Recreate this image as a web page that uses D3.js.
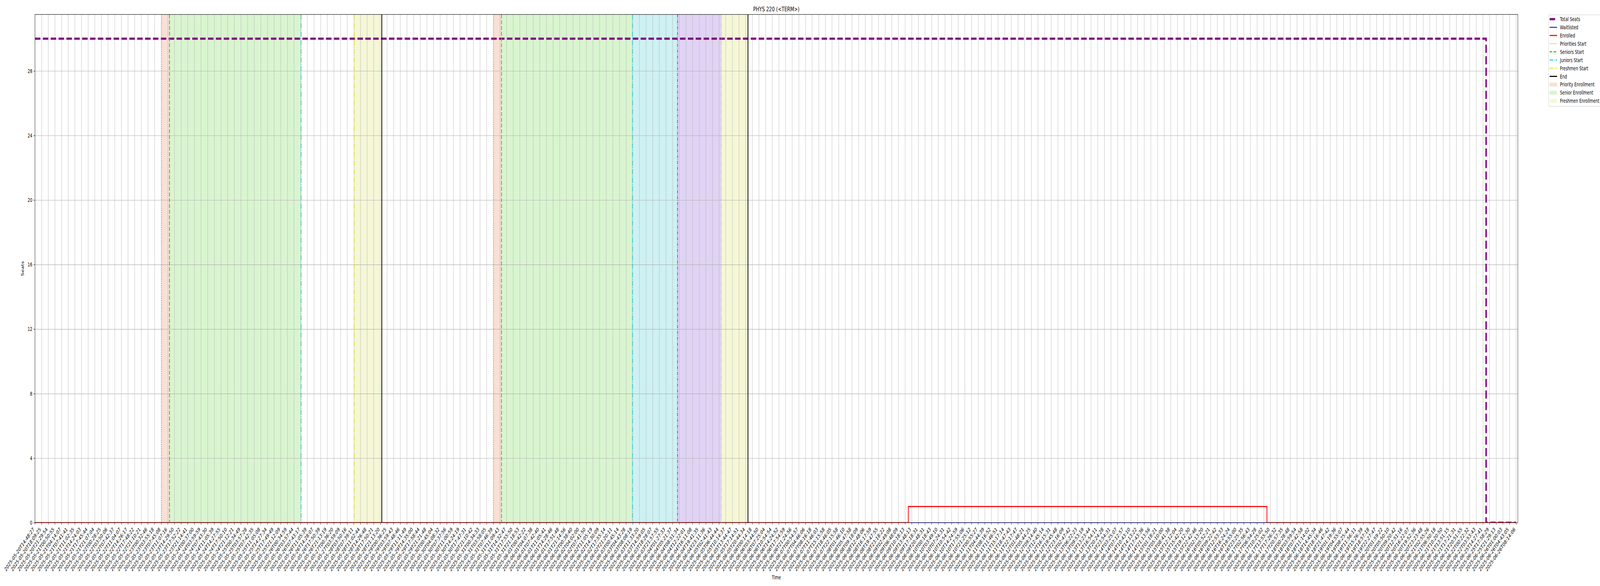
<!DOCTYPE html>
<html>
<head>
<meta charset="utf-8">
<title>PHYS 220 (<TERM>)</title>
<script src="https://cdn.jsdelivr.net/npm/d3@7"></script>
<style>
  html, body { margin: 0; padding: 0; background: #fff; overflow: hidden; }
  svg { display: block; }
  text { font-family: "DejaVu Sans", sans-serif; fill: #000; }
</style>
</head>
<body>
<div id="chart-area"></div>
<script>
// snapshot times (one category per scrape)
let timeLabels = [
  "2025-05-20T14:48:27","2025-05-20T18:09:25","2025-05-20T21:29:54","2025-05-21T00:50:55",
  "2025-05-21T04:14:07","2025-05-21T07:41:41","2025-05-21T11:02:35","2025-05-21T14:24:03",
  "2025-05-21T17:45:44","2025-05-21T21:07:04","2025-05-22T00:28:25","2025-05-22T03:50:06",
  "2025-05-22T07:42:37","2025-05-22T11:04:07","2025-05-22T14:26:17","2025-05-22T17:48:22",
  "2025-05-22T21:10:21","2025-05-23T00:32:46","2025-05-23T03:55:18","2025-05-23T07:45:08",
  "2025-05-23T11:07:16","2025-05-23T14:29:50","2025-05-23T17:52:22","2025-05-23T21:14:41",
  "2025-05-24T00:37:00","2025-05-24T03:59:59","2025-05-24T07:43:30","2025-05-24T11:05:39",
  "2025-05-24T14:27:55","2025-05-24T17:50:10","2025-05-24T21:12:21","2025-05-25T00:34:49",
  "2025-05-25T03:57:28","2025-05-25T07:42:35","2025-05-25T11:05:08","2025-05-25T14:27:34",
  "2025-05-25T17:49:49","2025-05-25T21:12:09","2025-05-26T00:34:59","2025-05-26T03:57:44",
  "2025-05-26T07:43:17","2025-05-26T11:05:39","2025-05-26T14:28:07","2025-05-26T17:50:39",
  "2025-05-26T21:13:19","2025-05-27T00:36:20","2025-05-27T03:59:09","2025-05-28T03:50:16",
  "2025-05-28T07:39:11","2025-05-28T11:02:44","2025-05-28T14:26:48","2025-05-28T17:50:21",
  "2025-05-28T21:13:20","2025-05-29T00:36:25","2025-05-29T03:59:43","2025-05-29T07:48:46",
  "2025-05-29T11:11:49","2025-05-29T14:35:00","2025-05-29T17:58:44","2025-05-29T21:21:48",
  "2025-05-30T00:45:04","2025-05-30T04:08:32","2025-05-30T07:37:56","2025-05-30T11:00:59",
  "2025-05-30T14:24:19","2025-05-30T17:47:31","2025-05-30T21:10:42","2025-05-31T00:34:33",
  "2025-05-31T03:58:05","2025-05-31T07:46:39","2025-05-31T11:09:43","2025-05-31T14:32:47",
  "2025-05-31T17:55:50","2025-05-31T21:18:53","2025-06-01T00:42:22","2025-06-01T04:07:38",
  "2025-06-01T07:42:40","2025-06-01T11:05:41","2025-06-01T14:28:46","2025-06-01T17:51:48",
  "2025-06-01T21:14:56","2025-06-02T00:38:40","2025-06-02T04:02:00","2025-06-02T07:41:50",
  "2025-06-02T11:05:19","2025-06-02T14:30:09","2025-06-02T17:55:14","2025-06-02T21:20:11",
  "2025-06-03T00:45:14","2025-06-03T04:43:28","2025-06-03T08:08:19","2025-06-03T11:33:20",
  "2025-06-03T14:59:05","2025-06-03T18:28:07","2025-06-03T21:57:55","2025-06-04T01:27:33",
  "2025-06-04T05:21:37","2025-06-04T08:51:34","2025-06-04T12:22:01","2025-06-04T16:11:08",
  "2025-06-04T19:41:35","2025-06-04T23:11:36","2025-06-05T02:41:43","2025-06-05T06:44:44",
  "2025-06-05T10:14:37","2025-06-05T13:44:47","2025-06-05T17:14:51","2025-06-05T20:44:34",
  "2025-06-06T00:14:18","2025-06-06T03:44:50","2025-06-06T07:25:04","2025-06-06T10:54:54",
  "2025-06-06T14:24:52","2025-06-06T17:54:59","2025-06-06T21:24:56","2025-06-07T00:54:57",
  "2025-06-07T04:46:06","2025-06-07T08:16:18","2025-06-07T11:46:03","2025-06-07T15:15:58",
  "2025-06-07T18:46:05","2025-06-07T22:15:58","2025-06-08T01:46:10","2025-06-08T05:47:58",
  "2025-06-08T09:18:09","2025-06-08T12:48:06","2025-06-08T16:17:59","2025-06-08T19:47:55",
  "2025-06-08T23:18:22","2025-06-09T02:49:08","2025-06-09T06:48:09","2025-06-09T10:18:13",
  "2025-06-09T13:48:13","2025-06-09T17:18:31","2025-06-09T20:48:31","2025-06-10T00:18:43",
  "2025-06-10T03:49:10","2025-06-10T07:24:31","2025-06-10T10:54:42","2025-06-10T14:24:59",
  "2025-06-10T17:55:06","2025-06-10T21:25:12","2025-06-11T00:55:27","2025-06-11T04:44:39",
  "2025-06-11T08:16:52","2025-06-11T11:46:51","2025-06-11T15:17:14","2025-06-11T18:47:43",
  "2025-06-11T22:17:47","2025-06-12T01:48:21","2025-06-12T05:44:25","2025-06-12T09:14:40",
  "2025-06-12T12:45:14","2025-06-12T16:15:31","2025-06-12T19:45:48","2025-06-12T23:16:09",
  "2025-06-13T02:47:42","2025-06-13T06:22:23","2025-06-13T09:53:19","2025-06-13T13:23:44",
  "2025-06-13T16:54:11","2025-06-13T20:24:28","2025-06-13T23:54:31","2025-06-14T03:25:07",
  "2025-06-14T07:12:57","2025-06-14T10:43:10","2025-06-14T14:13:22","2025-06-14T17:43:36",
  "2025-06-14T21:13:56","2025-06-15T01:18:21","2025-06-15T05:10:00","2025-06-15T08:41:38",
  "2025-06-15T12:12:04","2025-06-15T15:42:20","2025-06-15T19:12:30","2025-06-15T22:42:46",
  "2025-06-16T02:13:20","2025-06-16T05:52:21","2025-06-16T09:22:42","2025-06-16T12:53:33",
  "2025-06-16T16:24:24","2025-06-16T19:55:00","2025-06-16T23:25:35","2025-06-17T02:56:43",
  "2025-06-17T06:54:28","2025-06-17T10:25:02","2025-06-17T13:55:50","2025-06-17T17:26:32",
  "2025-06-17T20:57:35","2025-06-18T00:28:48","2025-06-18T03:59:54","2025-06-18T07:42:58",
  "2025-06-18T11:14:02","2025-06-18T14:45:34","2025-06-18T18:16:46","2025-06-18T21:47:42",
  "2025-06-19T01:19:36","2025-06-19T04:55:07","2025-06-19T08:25:44","2025-06-19T11:56:11",
  "2025-06-19T15:26:39","2025-06-19T18:57:18","2025-06-19T22:27:47","2025-06-20T01:59:22",
  "2025-06-20T05:50:10","2025-06-20T09:20:42","2025-06-20T12:51:16","2025-06-20T16:22:07",
  "2025-06-20T19:52:36","2025-06-20T23:23:48","2025-06-21T02:55:26","2025-06-21T06:50:18",
  "2025-06-21T10:20:50","2025-06-21T13:51:15","2025-06-21T17:21:31","2025-06-21T20:51:55",
  "2025-06-22T00:22:32","2025-06-22T03:53:43","2025-06-25T14:27:41","2025-06-25T17:58:29",
  "2025-06-25T21:29:13","2025-06-26T01:00:03","2025-06-26T04:43:05","2025-06-26T08:14:06"
];

let totalSeats = [
  30,30,30,30,30,30,30,30,30,30,30,30,30,30,30,30,
  30,30,30,30,30,30,30,30,30,30,30,30,30,30,30,30,
  30,30,30,30,30,30,30,30,30,30,30,30,30,30,30,30,
  30,30,30,30,30,30,30,30,30,30,30,30,30,30,30,30,
  30,30,30,30,30,30,30,30,30,30,30,30,30,30,30,30,
  30,30,30,30,30,30,30,30,30,30,30,30,30,30,30,30,
  30,30,30,30,30,30,30,30,30,30,30,30,30,30,30,30,
  30,30,30,30,30,30,30,30,30,30,30,30,30,30,30,30,
  30,30,30,30,30,30,30,30,30,30,30,30,30,30,30,30,
  30,30,30,30,30,30,30,30,30,30,30,30,30,30,30,30,
  30,30,30,30,30,30,30,30,30,30,30,30,30,30,30,30,
  30,30,30,30,30,30,30,30,30,30,30,30,30,30,30,30,
  30,30,30,30,30,30,30,30,30,30,30,30,30,30,30,30,
  30,30,30,30,30,30,30,30,30,30,30, 0, 0, 0, 0, 0
];

let waitlisted = [
  0,0,0,0,0,0,0,0,0,0,0,0,0,0,0,0,
  0,0,0,0,0,0,0,0,0,0,0,0,0,0,0,0,
  0,0,0,0,0,0,0,0,0,0,0,0,0,0,0,0,
  0,0,0,0,0,0,0,0,0,0,0,0,0,0,0,0,
  0,0,0,0,0,0,0,0,0,0,0,0,0,0,0,0,
  0,0,0,0,0,0,0,0,0,0,0,0,0,0,0,0,
  0,0,0,0,0,0,0,0,0,0,0,0,0,0,0,0,
  0,0,0,0,0,0,0,0,0,0,0,0,0,0,0,0,
  0,0,0,0,0,0,0,0,0,0,0,0,0,0,0,0,
  0,0,0,0,0,0,0,0,0,0,0,0,0,0,0,0,
  0,0,0,0,0,0,0,0,0,0,0,0,0,0,0,0,
  0,0,0,0,0,0,0,0,0,0,0,0,0,0,0,0,
  0,0,0,0,0,0,0,0,0,0,0,0,0,0,0,0,
  0,0,0,0,0,0,0,0,0,0,0,0,0,0,0,0
];

let enrolled = [
  0,0,0,0,0,0,0,0,0,0,0,0,0,0,0,0,
  0,0,0,0,0,0,0,0,0,0,0,0,0,0,0,0,
  0,0,0,0,0,0,0,0,0,0,0,0,0,0,0,0,
  0,0,0,0,0,0,0,0,0,0,0,0,0,0,0,0,
  0,0,0,0,0,0,0,0,0,0,0,0,0,0,0,0,
  0,0,0,0,0,0,0,0,0,0,0,0,0,0,0,0,
  0,0,0,0,0,0,0,0,0,0,0,0,0,0,0,0,
  0,0,0,0,0,0,0,0,0,0,0,0,0,0,0,0,
  0,0,0,0,1,1,1,1,1,1,1,1,1,1,1,1,
  1,1,1,1,1,1,1,1,1,1,1,1,1,1,1,1,
  1,1,1,1,1,1,1,1,1,1,1,1,1,1,1,1,
  1,1,1,1,1,1,1,1,1,1,0,0,0,0,0,0,
  0,0,0,0,0,0,0,0,0,0,0,0,0,0,0,0,
  0,0,0,0,0,0,0,0,0,0,0,0,0,0,0,0
];

let yTicks = [0, 4, 8, 12, 16, 20, 24, 28];

// enrollment phase markers, as fractional category positions
let markerKinds = ["priorities", "seniors", "juniors", "freshmen", "end",
                   "priorities", "seniors", "juniors", "sophomores", "freshmen", "end"];
let markerPos = [19.07, 20.26, 40.08, 48.10, 52.23,
                 69.07, 70.25, 89.96, 96.75, 103.36, 107.36];

let spanKinds = ["priority", "senior", "freshmen",
                 "priority", "senior", "junior", "sophomore", "freshmen"];
let spanStart = [19.07, 20.26, 48.10, 69.07, 70.25, 89.96, 96.75, 103.36];
let spanEnd   = [20.26, 40.08, 52.23, 70.25, 89.96, 96.75, 103.36, 107.36];

// styles
let markerStyle = {
    priorities: { color: "#f06a32", width: 2.1, dash: "2.1,3.4" },
    seniors:    { color: "#33cc11", width: 2.8, dash: "10.3,4.4" },
    juniors:    { color: "#14c4d2", width: 2.1, dash: "13.3,3.3,2.1,3.3" },
    sophomores: { color: "#6a22d6", width: 2.1, dash: "8,2.5,2,2.5" },
    freshmen:   { color: "#e0e028", width: 2.1, dash: "13.3,3.3,2.1,3.3" },
    end:        { color: "#000000", width: 2.8, dash: null }
};
let spanFill = {
    priority:  "#f8e0d5",
    senior:    "#d9f5d0",
    junior:    "#cef1f3",
    sophomore: "#e0d3f4",
    freshmen:  "#f6f7d6"
};

let W = 6000, H = 1500;
let margin = { left: 131, top: 37, right: 308, bottom: 162 };
let width = W - margin.left - margin.right;
let height = H - margin.top - margin.bottom;

// the drawing is laid out on a 6000x1500 board and stretched to the window
let pageW = window.innerWidth || W;
let pageH = window.innerHeight || H;
let svg = d3.select("#chart-area")
    .append("svg")
    .attr("width", pageW)
    .attr("height", pageH)
    .attr("viewBox", "0 0 " + W + " " + H)
    .attr("preserveAspectRatio", "none");

svg.append("rect").attr("width", W).attr("height", H).attr("fill", "#fff");

let g = svg.append("g")
    .attr("transform", "translate(" + margin.left + ", " + margin.top + ")");

g.append("clipPath").attr("id", "plot-clip")
    .append("rect")
    .attr("width", width)
    .attr("height", height);

let x = d3.scaleLinear()
    .domain([0, timeLabels.length - 1])
    .range([0, width - 7]);

let y = d3.scaleLinear()
    .domain([0, 31.5])
    .range([height, 0]);

let plot = g.append("g").attr("clip-path", "url(#plot-clip)");

// shaded enrollment windows
plot.selectAll("rect.span")
    .data(spanKinds)
    .enter()
    .append("rect")
    .attr("class", "span")
    .attr("x", function(d, i) { return x(spanStart[i]); })
    .attr("width", function(d, i) { return x(spanEnd[i]) - x(spanStart[i]); })
    .attr("y", 0)
    .attr("height", height)
    .attr("fill", function(d) { return spanFill[d]; });

// grid
let idx = d3.range(timeLabels.length);
plot.append("g")
    .attr("class", "grid")
    .attr("transform", "translate(0, " + height + ")")
    .call(d3.axisBottom(x).tickValues(idx).tickSize(-height).tickFormat(""))
    .call(function(s) { s.select(".domain").remove(); })
    .selectAll("line")
    .attr("stroke", "#b0b0b0")
    .attr("stroke-width", 1.1);

plot.append("g")
    .attr("class", "grid")
    .call(d3.axisLeft(y).tickValues(yTicks).tickSize(-width).tickFormat(""))
    .call(function(s) { s.select(".domain").remove(); })
    .selectAll("line")
    .attr("stroke", "#b0b0b0")
    .attr("stroke-width", 1.1);

// series, drawn as mid steps
let stepLine = function(series) {
    return d3.line()
        .x(function(d, i) { return x(i); })
        .y(function(d) { return y(d); })
        .curve(d3.curveStep)(series);
};

plot.append("path")
    .attr("d", stepLine(totalSeats))
    .attr("fill", "none")
    .attr("stroke", "#800080")
    .attr("stroke-width", 5.56)
    .attr("stroke-dasharray", "20.6,8.9");

plot.append("path")
    .attr("d", stepLine(waitlisted))
    .attr("fill", "none")
    .attr("stroke", "#0000ff")
    .attr("stroke-width", 2.1);

plot.append("path")
    .attr("d", stepLine(enrolled))
    .attr("fill", "none")
    .attr("stroke", "#ff0000")
    .attr("stroke-width", 2.8);

// phase marker lines
plot.selectAll("line.marker")
    .data(markerKinds)
    .enter()
    .append("line")
    .attr("class", "marker")
    .attr("x1", function(d, i) { return x(markerPos[i]); })
    .attr("x2", function(d, i) { return x(markerPos[i]); })
    .attr("y1", 0)
    .attr("y2", height)
    .attr("stroke", function(d) { return markerStyle[d].color; })
    .attr("stroke-width", function(d) { return markerStyle[d].width; })
    .attr("stroke-dasharray", function(d) { return markerStyle[d].dash; });

// axes
let xAxisCall = d3.axisBottom(x)
    .tickValues(idx)
    .tickSize(4.9)
    .tickFormat(function(i) { return timeLabels[i]; });
g.append("g")
    .attr("class", "x axis")
    .attr("transform", "translate(0, " + height + ")")
    .call(xAxisCall)
    .call(function(s) { s.select(".domain").remove(); })
    .selectAll("text")
        .attr("x", 0)
        .attr("y", 0)
        .attr("dy", 0)
        .attr("font-size", "13.9px")
        .attr("text-anchor", "end")
        .attr("transform", "translate(-2, 18) rotate(-45)");

let yAxisCall = d3.axisLeft(y)
    .tickValues(yTicks)
    .tickSize(4.9)
    .tickPadding(4.9);
g.append("g")
    .attr("class", "y axis")
    .call(yAxisCall)
    .call(function(s) { s.select(".domain").remove(); })
    .selectAll("text")
        .attr("font-size", "13.9px");

g.selectAll(".axis line").attr("stroke", "#000").attr("stroke-width", 1.1);

// frame
g.append("rect")
    .attr("width", width)
    .attr("height", height)
    .attr("fill", "none")
    .attr("stroke", "#000")
    .attr("stroke-width", 1.1);

// labels
g.append("text")
    .attr("x", width / 2)
    .attr("y", -8)
    .attr("font-size", "16.7px")
    .attr("text-anchor", "middle")
    .text("PHYS 220 (<TERM>)");

g.append("text")
    .attr("x", width / 2)
    .attr("y", height + 145)
    .attr("font-size", "13.9px")
    .attr("text-anchor", "middle")
    .text("Time");

g.append("text")
    .attr("x", -(height / 2))
    .attr("y", -42)
    .attr("font-size", "13.9px")
    .attr("text-anchor", "middle")
    .attr("transform", "rotate(-90)")
    .text("Seats");

// legend
let legendNames = ["Total Seats", "Waitlisted", "Enrolled", "Priorities Start", "Seniors Start",
                   "Juniors Start", "Freshmen Start", "End", "Priority Enrollment",
                   "Senior Enrollment", "Freshmen Enrollment"];
let legendHandles = [
    { type: "line", color: "#800080", width: 5.56, dash: "20.6,8.9" },
    { type: "line", color: "#0000ff", width: 2.1, dash: null },
    { type: "line", color: "#ff0000", width: 2.8, dash: null },
    { type: "line", style: "priorities" },
    { type: "line", style: "seniors" },
    { type: "line", style: "juniors" },
    { type: "line", style: "freshmen" },
    { type: "line", style: "end" },
    { type: "patch", fill: "priority" },
    { type: "patch", fill: "senior" },
    { type: "patch", fill: "freshmen" }
];

let legend = svg.append("g").attr("transform", "translate(5807, 38)");
legend.append("rect")
    .attr("width", 215)
    .attr("height", 234)
    .attr("rx", 3)
    .attr("fill", "#fff")
    .attr("fill-opacity", 0.8)
    .attr("stroke", "#cccccc")
    .attr("stroke-width", 1.1);

let rows = legend.selectAll("g.row")
    .data(legendNames)
    .enter()
    .append("g")
    .attr("class", "row")
    .attr("transform", function(d, i) { return "translate(0, " + (11 + i * 20.93) + ")"; });

rows.each(function(d, i) {
    let h = legendHandles[i];
    let row = d3.select(this);
    if (h.type === "patch") {
        row.append("rect")
            .attr("x", 4)
            .attr("y", -4.9)
            .attr("width", 28)
            .attr("height", 9.7)
            .attr("fill", spanFill[h.fill]);
    } else {
        let st = h.style ? markerStyle[h.style] : h;
        row.append("line")
            .attr("x1", 4)
            .attr("x2", 32)
            .attr("stroke", st.color)
            .attr("stroke-width", st.width)
            .attr("stroke-dasharray", st.dash);
    }
});

rows.append("text")
    .attr("x", 43)
    .attr("dy", "0.36em")
    .attr("font-size", "13.9px")
    .text(function(d) { return d; });
</script>
</body>
</html>
